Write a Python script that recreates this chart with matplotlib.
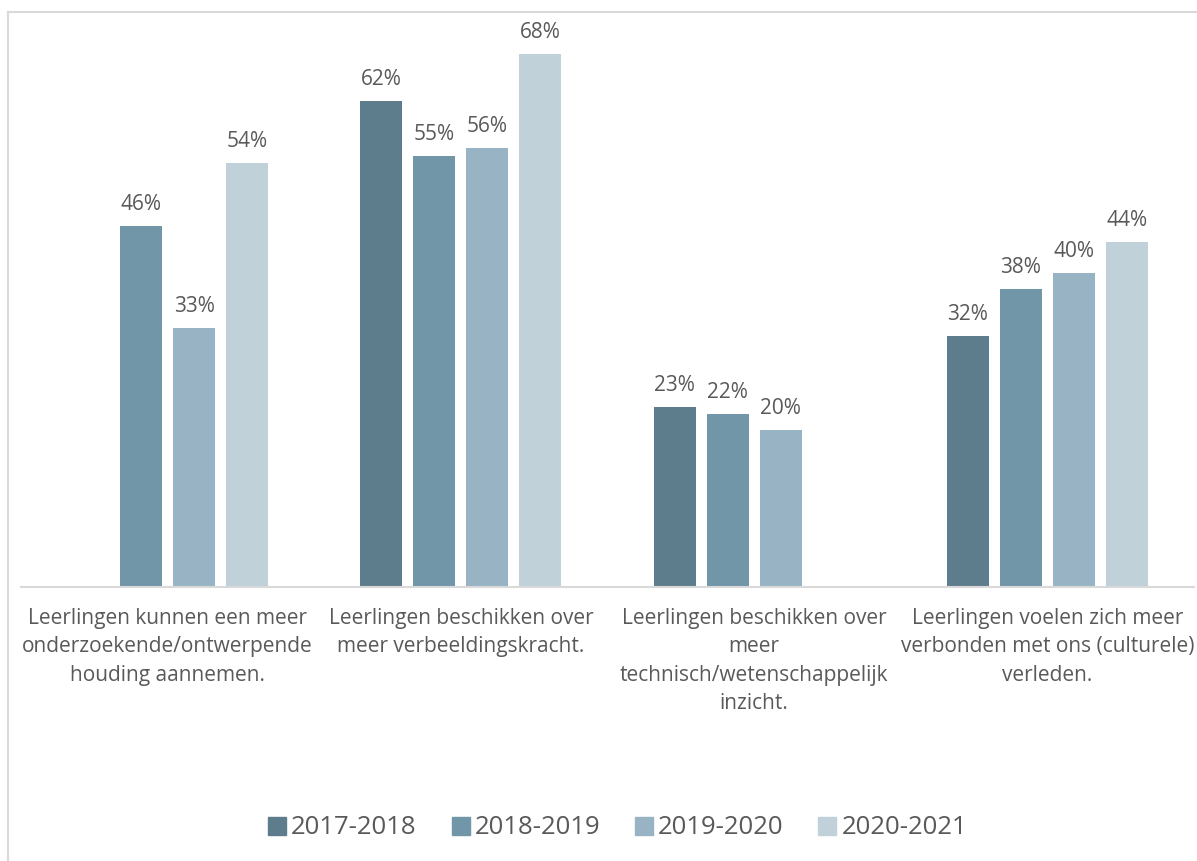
import numpy as np
import matplotlib.pyplot as plt
from matplotlib.lines import Line2D

plt.rcParams['font.family'] = ['Open Sans', 'DejaVu Sans']

# Datos
categorias = [
    "Leerlingen kunnen een meer\nonderzoekende/ontwerpende\nhouding aannemen.",
    "Leerlingen beschikken over\nmeer verbeeldingskracht.",
    "Leerlingen beschikken over\nmeer\ntechnisch/wetenschappelijk\ninzicht.",
    "Leerlingen voelen zich meer\nverbonden met ons (culturele)\nverleden.",
]
jaren = ["2017-2018", "2018-2019", "2019-2020", "2020-2021"]
v_2017 = [np.nan, 62, 23, 32]
v_2018 = [46, 55, 22, 38]
v_2019 = [33, 56, 20, 40]
v_2020 = [54, 68, np.nan, 44]
kleuren = ["#5e7d8c", "#7096a8", "#97b3c4", "#c0d1da"]

series = [v_2017, v_2018, v_2019, v_2020]
tekst = "#595959"

W, H = 1197, 861
fig = plt.figure(figsize=(W / 100, H / 100), dpi=100)
ax = fig.add_axes([21 / W, (H - 587) / H, (1194 - 21) / W, 549 / H])

x = np.arange(len(categorias))
paso = 0.1806
ancho = 0.143
for i, (vals, col) in enumerate(zip(series, kleuren)):
    pos = x + (i - 1.5) * paso
    ax.bar(pos, vals, width=ancho, color=col, zorder=2)
    for p, v in zip(pos, vals):
        if not np.isnan(v):
            ax.annotate(f"{v:.0f}%", (p, v), xytext=(0, 8), textcoords="offset points",
                        ha="center", va="bottom", fontsize=15, color=tekst)

ax.set_xlim(-0.5, 3.5)
ax.set_ylim(0, 70)
ax.set_yticks([])
for s in ["top", "right", "left"]:
    ax.spines[s].set_visible(False)
ax.spines["bottom"].set_color("#d9d9d9")
ax.spines["bottom"].set_linewidth(1.5)
ax.set_xticks(x)
ax.set_xticklabels(categorias, fontsize=15, color=tekst, linespacing=1.47)
ax.tick_params(axis="x", length=0, pad=15)

# Leyenda
handles = [Line2D([], [], marker="s", linestyle="none", markersize=13,
                  markerfacecolor=c, markeredgecolor=c) for c in kleuren]
fig.legend(handles, jaren, loc="center", bbox_to_anchor=(617 / W, (H - 828) / H),
           ncol=4, frameon=False, fontsize=18.5, labelcolor=tekst,
           handletextpad=0.15, columnspacing=1.3, handlelength=0.8)

# Marco
fig.add_artist(Line2D([8 / W, 1], [1 - 11.5 / H, 1 - 11.5 / H], color="#d9d9d9", lw=1.5))
fig.add_artist(Line2D([8 / W, 8 / W], [0, 1 - 11.5 / H], color="#d9d9d9", lw=1.5))

fig.savefig("out.png", dpi=100)
